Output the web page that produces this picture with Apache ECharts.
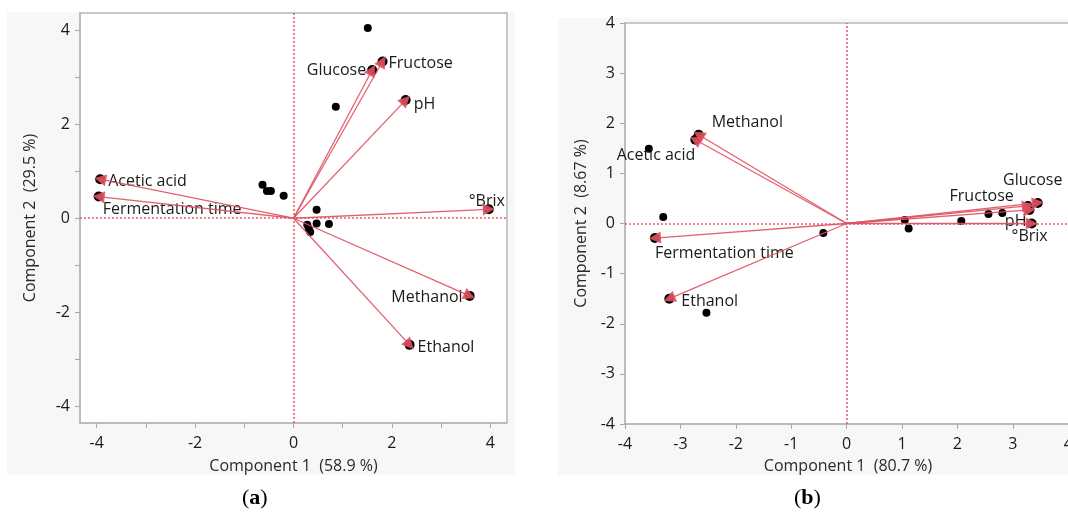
<!DOCTYPE html>
<html><head><meta charset="utf-8">
<script src="https://cdn.jsdelivr.net/npm/echarts@6/dist/echarts.min.js"></script>
<style>html,body{margin:0;padding:0;background:#fff}#c{width:1068px;height:512px}</style>
</head><body><div id="c"></div><script>
// ---------- DATA ----------
// Panel (a)
const varNamesA = ['Glucose', 'Fructose', 'pH', '°Brix', 'Methanol', 'Ethanol', 'Acetic acid', 'Fermentation time'];
const loadXA = [1.60, 1.81, 2.28, 3.97, 3.58, 2.36, -3.93, -3.96];
const loadYA = [3.15, 3.33, 2.51, 0.19, -1.65, -2.69, 0.83, 0.46];
const scoreXA = [1.51, 0.86, -0.63, -0.54, -0.46, -0.20, 0.47, 0.47, 0.72, 0.28, 0.31, 0.34];
const scoreYA = [4.04, 2.37, 0.71, 0.58, 0.58, 0.48, 0.18, -0.11, -0.12, -0.14, -0.22, -0.29];
const tickValsA = [-4, -3, -2, -1, 0, 1, 2, 3, 4];
const labelValsA = [-4, -2, 0, 2, 4];
const xNameA = 'Component 1  (58.9 %)';
const yNameA = 'Component 2  (29.5 %)';
// Panel (b)
const varNamesB = ['Methanol', 'Acetic acid', 'Fermentation time', 'Ethanol', 'Glucose', 'Fructose', 'pH', '°Brix'];
const loadXB = [-2.67, -2.73, -3.46, -3.20, 3.45, 3.27, 3.30, 3.34];
const loadYB = [1.77, 1.67, -0.29, -1.50, 0.41, 0.35, 0.27, 0.00];
const scoreXB = [-3.57, -3.31, -2.53, -0.42, 1.05, 1.12, 2.07, 2.56, 2.81];
const scoreYB = [1.49, 0.13, -1.78, -0.19, 0.07, -0.10, 0.05, 0.19, 0.21];
const tickValsB = [-4, -3, -2, -1, 0, 1, 2, 3, 4];
const labelValsB = [-4, -3, -2, -1, 0, 1, 2, 3, 4];
const xNameB = 'Component 1  (80.7 %)';
const yNameB = 'Component 2  (8.67 %)';
const panelTags = ['a', 'b'];

// ---------- STYLE (label placement, px offsets from arrow tip) ----------
const labelStyleA = {
  'Glucose': ['right', -6, 0], 'Fructose': ['left', 6, 2], 'pH': ['left', 8, 4],
  '°Brix': ['center', -2, -8], 'Methanol': ['right', -7, 2], 'Ethanol': ['left', 8, 3],
  'Acetic acid': ['left', 8, 2], 'Fermentation time': ['left', 4, 13]
};
const labelStyleB = {
  'Methanol': ['left', 13, -12], 'Acetic acid': ['right', 0, 16], 'Fermentation time': ['left', 0, 15],
  'Ethanol': ['left', 12, 3], 'Glucose': ['center', -5, -23], 'Fructose': ['right', -14, -10],
  'pH': ['right', -3, 11], '°Brix': ['center', -2, 13]
};

const FONT = '"Open Sans", "Noto Sans", sans-serif';
const FS = 16;
const TXT = '#1a1a1a';
const RED_LINE = '#e0505f';
const RED_HEAD = '#e8283c';
const REF = '#e0606e';

function xAxis(gi, min, max, ticks, labels, name, gap) {
  return {
    type: 'value', gridIndex: gi, min: min, max: max, name: name,
    nameLocation: 'middle', nameGap: gap,
    nameTextStyle: { fontFamily: FONT, fontSize: FS, color: '#2a2a2a' },
    splitLine: { show: false },
    axisLine: { show: true, onZero: false, lineStyle: { color: '#b8b8b8', width: 1.5 } },
    axisTick: { show: true, length: 5, customValues: ticks, lineStyle: { color: '#a8a8a8' } },
    axisLabel: { customValues: labels, fontFamily: FONT, fontSize: FS, color: TXT, margin: 12 }
  };
}
function yAxis(gi, min, max, ticks, labels, name, gap) {
  return {
    type: 'value', gridIndex: gi, min: min, max: max, name: name,
    nameLocation: 'middle', nameGap: gap,
    nameTextStyle: { fontFamily: FONT, fontSize: FS, color: '#2a2a2a' },
    splitLine: { show: false },
    axisLine: { show: true, onZero: false, lineStyle: { color: '#b8b8b8', width: 1.5 } },
    axisTick: { show: true, length: 5, customValues: ticks, lineStyle: { color: '#a8a8a8' } },
    axisLabel: { customValues: labels, fontFamily: FONT, fontSize: FS, color: TXT, margin: 10 }
  };
}

function panelSeries(gi, names, lx, ly, sx, sy, lstyle) {
  const arrows = names.map((n, i) => ({ coords: [[0, 0], [lx[i], ly[i]]] }));
  const tips = names.map((n, i) => {
    const s = lstyle[n];
    return {
      value: [lx[i], ly[i]], name: n,
      label: { show: true, position: 'inside', align: s[0], verticalAlign: 'middle', offset: [s[1], s[2]],
        formatter: n, fontFamily: FONT, fontSize: FS, color: TXT }
    };
  });
  return [
    {
      type: 'scatter', xAxisIndex: gi, yAxisIndex: gi, silent: true,
      data: sx.map((x, i) => [x, sy[i]]), symbolSize: 8, itemStyle: { color: '#000', opacity: 1 }, z: 3,
      markLine: {
        silent: true, symbol: 'none', animation: false,
        lineStyle: { color: REF, type: [2, 2], width: 1.6 }, label: { show: false },
        data: [{ xAxis: 0 }, { yAxis: 0 }]
      }
    },
    {
      type: 'scatter', xAxisIndex: gi, yAxisIndex: gi, silent: true,
      data: tips, symbolSize: 10, itemStyle: { color: '#000', opacity: 1 }, z: 4
    },
    {
      type: 'lines', coordinateSystem: 'cartesian2d', xAxisIndex: gi, yAxisIndex: gi, silent: true,
      data: arrows, symbol: ['none', 'triangle'], symbolSize: 12,
      lineStyle: { color: RED_LINE, width: 1.3, opacity: 0.9 },
      itemStyle: { color: RED_HEAD }, z: 5
    }
  ];
}

const tagRich = {
  n: { fontFamily: '"Liberation Serif", serif', fontSize: 22, fill: '#000' },
  b: { fontFamily: '"Liberation Serif", serif', fontSize: 22, fontWeight: 'bold', fill: '#000' }
};

const chart = echarts.init(document.getElementById('c'), null, { renderer: 'canvas' });
chart.setOption({
  animation: false,
  backgroundColor: '#fff',
  graphic: [
    { type: 'rect', z: -100, shape: { x: 7, y: 12, width: 508, height: 463 }, style: { fill: '#f7f7f7' } },
    { type: 'rect', z: -100, shape: { x: 558, y: 18, width: 520, height: 457 }, style: { fill: '#f7f7f7' } },
    { type: 'text', left: 242, top: 487, style: { text: '{n|(}{b|' + panelTags[0] + '}{n|)}', rich: tagRich } },
    { type: 'text', left: 794, top: 487, style: { text: '{n|(}{b|' + panelTags[1] + '}{n|)}', rich: tagRich } }
  ],
  grid: [
    { left: 80, top: 13, width: 427, height: 410, show: true, backgroundColor: '#fff', borderColor: '#b8b8b8', borderWidth: 1.5, outerBoundsMode: 'none' },
    { left: 625, top: 23, width: 446, height: 401, show: true, backgroundColor: '#fff', borderColor: '#b8b8b8', borderWidth: 1.5, outerBoundsMode: 'none' }
  ],
  xAxis: [
    xAxis(0, -4.34, 4.34, tickValsA, labelValsA, xNameA, 35),
    xAxis(1, -4, 4.05, tickValsB, labelValsB, xNameB, 34)
  ],
  yAxis: [
    yAxis(0, -4.35, 4.36, tickValsA, labelValsA, yNameA, 42),
    yAxis(1, -4, 4, tickValsB, labelValsB, yNameB, 36)
  ],
  series: [].concat(
    panelSeries(0, varNamesA, loadXA, loadYA, scoreXA, scoreYA, labelStyleA),
    panelSeries(1, varNamesB, loadXB, loadYB, scoreXB, scoreYB, labelStyleB)
  )
});
</script></body></html>
